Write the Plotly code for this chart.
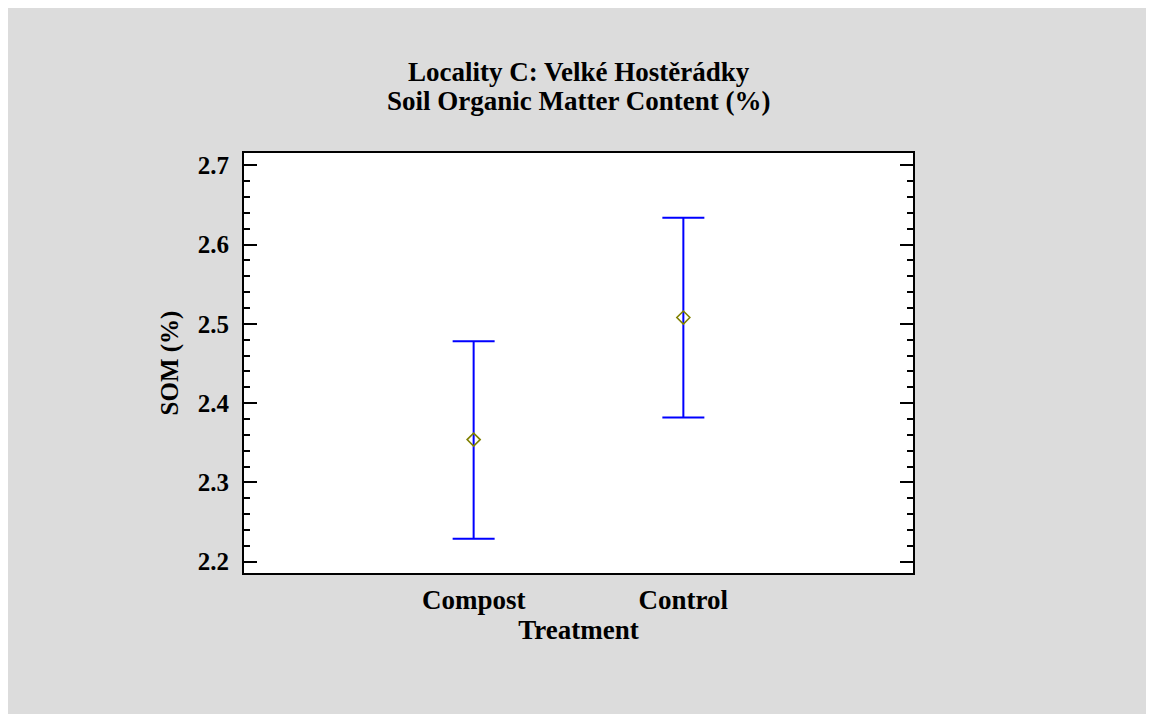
import plotly.graph_objects as go

# data
treatments = ["Compost", "Control"]
som_mean = [2.354, 2.508]
som_lower = [2.229, 2.382]
som_upper = [2.478, 2.634]

y_tickvals = [2.2, 2.3, 2.4, 2.5, 2.6, 2.7]
y_ticktext = ["2.2", "2.3", "2.4", "2.5", "2.6", "2.7"]

title_lines = ["Locality C: Velké Hostěrádky", "Soil Organic Matter Content (%)"]

W, H = 1138, 706
L, R, T, B = 236, 905, 145, 565   # plot area in figure pixels

FONT = "Liberation Serif, Times New Roman, serif"
FS = 25

fig = go.Figure()
fig.add_trace(go.Scatter(
    x=treatments,
    y=som_mean,
    mode="markers",
    marker=dict(symbol="diamond-open", size=10, color="#808000",
                line=dict(width=1.6, color="#808000")),
    error_y=dict(
        type="data",
        symmetric=False,
        array=[u - m for u, m in zip(som_upper, som_mean)],
        arrayminus=[m - l for m, l in zip(som_mean, som_lower)],
        color="#0000ff",
        thickness=2,
        width=21,
    ),
    showlegend=False,
))

# two title lines, set as annotations to keep the tight line spacing
for i, line in enumerate(title_lines):
    fig.add_annotation(
        text="<b>%s</b>" % line,
        xref="paper", yref="paper",
        x=0.5, xanchor="center",
        y=(B - (64 + 29 * i)) / (B - T), yanchor="middle",
        showarrow=False,
        font=dict(size=27, family=FONT, color="black"),
    )

fig.update_layout(
    width=W, height=H,
    margin=dict(l=L, r=W - R, t=T, b=H - B),
    paper_bgcolor="#dcdcdc",
    plot_bgcolor="white",
    font=dict(family=FONT, color="black"),
)

fig.update_xaxes(
    type="category",
    range=[-1.095, 2.095],
    showline=True, linecolor="black", linewidth=2, mirror=True,
    ticks="", showgrid=False, zeroline=False,
    tickfont=dict(size=27, family=FONT, weight="bold"),
    ticklabelstandoff=2,
    title=dict(text="<b>Treatment</b>", font=dict(size=27, family=FONT), standoff=3),
)

fig.update_yaxes(
    range=[2.1857, 2.7156],
    tickvals=y_tickvals, ticktext=y_ticktext,
    showline=True, linecolor="black", linewidth=2, mirror="allticks",
    ticks="inside", ticklen=13, tickwidth=2, tickcolor="black",
    minor=dict(ticks="inside", ticklen=6, tickwidth=2, tickcolor="black",
               dtick=0.02, tick0=2.2),
    showgrid=False, zeroline=False,
    tickfont=dict(size=FS, family=FONT, weight="bold"),
    ticklabelstandoff=8,
    title=dict(text="<b>SOM (%)</b>", font=dict(size=FS, family=FONT), standoff=12),
)

fig.write_html("out.html")
